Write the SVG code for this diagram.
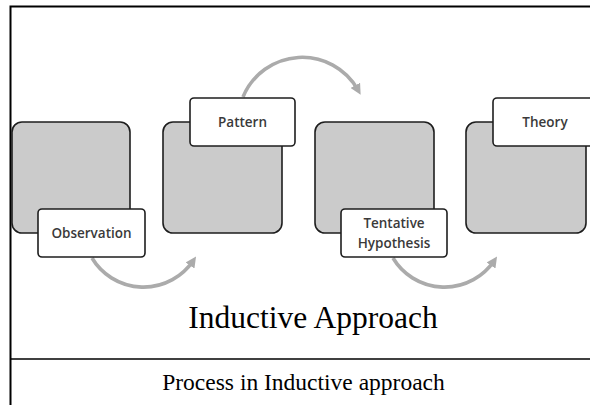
<svg xmlns="http://www.w3.org/2000/svg" width="590" height="405" viewBox="0 0 590 405">
<defs>
<style>
.card{fill:#cbcbcb;stroke:#1e1e1e;stroke-width:1.6}
.lbl{fill:#fff;stroke:#1e1e1e;stroke-width:1.6}
.lt{font-family:"Open Sans","DejaVu Sans",sans-serif;font-size:13.5px;font-weight:600;fill:#3a3a3a;text-anchor:middle}
.arc{fill:none;stroke:#ababab;stroke-width:3.6}
.serif{font-family:"Liberation Serif","Times New Roman",serif;fill:#000;text-anchor:middle}
</style>
<marker id="ah" viewBox="0 0 10 10" refX="5" refY="5" markerWidth="3" markerHeight="3" orient="auto" markerUnits="strokeWidth">
<path d="M0,0 L10,5 L0,10 z" fill="#ababab"/>
</marker>
</defs>
<rect width="590" height="405" fill="#fff"/>
<g id="frame" stroke="#000" fill="none">
<path d="M10.5,405 V6.5 H590" stroke-width="2"/>
<path d="M10,359 H590" stroke-width="1.6"/>
</g>
<g id="connectors">
<path class="arc" d="M243,97 A64,64 0 0 1 358,90" marker-end="url(#ah)"/>
<path class="arc" d="M92,258 A60,60 0 0 0 193,261" marker-end="url(#ah)"/>
<path class="arc" d="M393,258 A60,60 0 0 0 494,261" marker-end="url(#ah)"/>
</g>
<g id="observation">
<rect class="card" x="12" y="122" width="118" height="111" rx="10"/>
<rect class="lbl" x="38" y="209" width="107" height="48" rx="4"/>
<text class="lt" x="91.5" y="238">Observation</text>
</g>
<g id="pattern">
<rect class="card" x="163" y="122" width="119" height="111" rx="10"/>
<rect class="lbl" x="190" y="98" width="105" height="48" rx="4"/>
<text class="lt" x="242.5" y="127">Pattern</text>
</g>
<g id="hypothesis">
<rect class="card" x="315" y="122" width="119" height="111" rx="10"/>
<rect class="lbl" x="341" y="209" width="106" height="48" rx="4"/>
<text class="lt" x="394" y="228">Tentative</text>
<text class="lt" x="394" y="248">Hypothesis</text>
</g>
<g id="theory">
<rect class="card" x="466" y="122" width="120" height="111" rx="10"/>
<rect class="lbl" x="493" y="98" width="105" height="48" rx="4"/>
<text class="lt" x="545" y="127">Theory</text>
</g>
<text class="serif" x="313" y="328" font-size="31.5">Inductive Approach</text>
<text class="serif" x="303.5" y="390" font-size="23.5">Process in Inductive approach</text>
</svg>
